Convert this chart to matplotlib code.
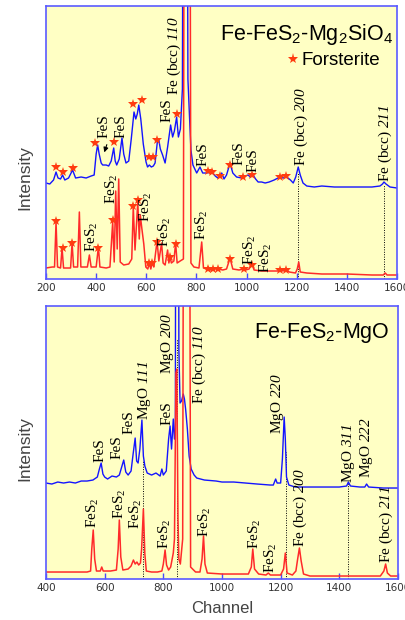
import matplotlib
matplotlib.use('Agg')
import matplotlib.pyplot as plt

plt.rcParams['mathtext.fontset'] = 'custom'
# \mathrm is used for the italic Miller indices (digits ignore \mathit)
plt.rcParams['mathtext.rm'] = 'Liberation Serif:italic'
plt.rcParams['mathtext.it'] = 'Liberation Serif:italic'
plt.rcParams['mathtext.default'] = 'regular'

# ---- top panel: Fe-FeS2-Mg2SiO4 (channel, intensity in arbitrary units) ----
top_blue_ch = [200, 215, 230, 240, 248, 258, 266, 275, 290, 306, 318, 340, 360, 380, 392, 400, 406, 412, 420, 426,
               440, 450, 460, 470, 476, 482, 492, 503, 510, 519, 530, 540, 551, 558, 564, 570, 578, 588, 599, 605,
               612, 620, 628, 635, 644, 650, 656, 665, 675, 685, 697, 705, 712, 721, 728, 736, 744, 750, 760, 766,
               778, 786, 801, 814, 825, 840, 861, 875, 885, 901, 910, 920, 934, 945, 960, 981, 995, 1006, 1015, 1026,
               1036, 1046, 1060, 1074, 1090, 1110, 1133, 1145, 1160, 1175, 1186, 1196, 1206, 1214, 1225, 1240, 1270,
               1300, 1350, 1400, 1450, 1500, 1532, 1542, 1548, 1556, 1572, 1600]
top_blue_I = [96, 95, 99, 107, 101, 100, 104, 99, 101, 109, 101, 102, 101, 103, 104, 125, 134, 125, 116, 114,
              114, 113, 118, 131, 118, 114, 120, 141, 125, 116, 118, 140, 167, 160, 165, 174, 160, 135, 117, 112,
              114, 112, 113, 116, 137, 139, 130, 124, 116, 132, 154, 142, 148, 162, 142, 150, 190, 800, 800, 200,
              129, 114, 106, 112, 106, 106, 107, 103, 101, 106, 100, 104, 116, 106, 102, 101, 103, 104, 102, 104,
              100, 97, 97, 96, 97, 99, 102, 101, 102, 99, 96, 102, 112, 104, 96, 93, 92,
              93, 92, 92, 92, 92, 93, 95, 97, 95, 92, 91]

top_red_ch = [200, 225, 234, 240, 246, 258, 264, 270, 298, 304, 310, 326, 333, 339, 365, 373, 380, 400, 409, 415,
              440, 455, 466, 472, 478, 484, 490, 496, 510, 530, 542, 548, 555, 566, 572, 576, 582, 590, 598, 606,
              612, 618, 623, 630, 643, 650, 661, 667, 675, 685, 690, 695, 700, 710, 717, 723, 735, 748, 754, 770,
              778, 790, 810, 821, 828, 840, 847, 855, 867, 887, 905, 920, 934, 945, 970, 987, 995, 1010, 1020, 1030,
              1060, 1100, 1125, 1133, 1145, 1157, 1170, 1195, 1202, 1208, 1214, 1240, 1300, 1400, 1500, 1545, 1553,
              1560, 1600]
top_red_I = [11, 12, 12, 57, 12, 11, 31, 11, 11, 36, 12, 12, 67, 12, 12, 24, 12, 12, 32, 12,
             11, 12, 57, 17, 88, 30, 100, 17, 14, 15, 20, 72, 29, 77, 40, 64, 51, 35, 12, 10,
             16, 10, 16, 12, 38, 18, 36, 16, 14, 29, 16, 22, 16, 18, 36, 16, 18, 20, 900, 900,
             16, 12, 11, 37, 11, 10, 12, 9, 11, 10, 9, 10, 21, 10, 9, 10, 9, 10, 16, 9,
             8, 8, 8, 10, 8, 10, 7, 6, 10, 17, 7, 6, 5, 5, 4, 4, 6,
             4, 4]

top_star_blue_ch = [240, 266, 306, 397, 472, 548, 582, 612, 628, 644, 721, 848, 862, 894, 934, 987, 1020, 1133, 1157]
top_star_blue_I = [112, 107, 111, 136, 137, 175, 179, 122, 122, 139, 165, 108, 107, 103, 114, 102, 104, 102, 103]
top_star_red_ch = [240, 266, 304, 409, 466, 548, 566, 612, 623, 643, 695, 717, 847, 867, 887, 934, 991, 1020, 1133, 1157]
top_star_red_I = [58, 31, 36, 31, 59, 73, 79, 16, 16, 37, 22, 35, 10, 10, 10, 20, 10, 14, 9, 9]

top_labels = ['FeS', 'FeS', 'FeS', 'Fe (bcc) $\\mathrm{110}$', 'FeS', 'FeS', 'FeS',
              'Fe (bcc) $\\mathrm{200}$', 'Fe (bcc) $\\mathrm{211}$',
              'FeS$_2$', 'FeS$_2$', 'FeS$_2$', 'FeS$_2$', 'FeS$_2$', 'FeS$_2$', 'FeS$_2$']
top_label_ch = [431, 500, 681, 711, 825, 971, 1027, 1220, 1554, 462, 383, 599, 676, 821, 1014, 1076]
top_label_I = [141, 141, 157, 184, 113, 114, 107, 113, 97, 75, 27, 57, 32, 39, 14, 6]

top_dot_ch = [1207, 1550]
top_dot_I = [107, 94]

# ---- bottom panel: Fe-FeS2-MgO ----
bot_blue_ch = [400, 420, 440, 460, 480, 500, 520, 540, 560, 575, 582, 588, 594, 600, 610, 625, 640, 650, 658, 665,
               672, 680, 690, 697, 704, 709, 714, 720, 727, 732, 737, 745, 760, 775, 789, 795, 800, 810, 818, 823,
               828, 834, 838, 841, 844, 850, 853, 857, 862, 868, 872, 876, 882, 888, 895, 905, 914, 940, 980, 1000,
               1040, 1080, 1120, 1164, 1175, 1183, 1188, 1200, 1206, 1212, 1216, 1220, 1228, 1250, 1300, 1350, 1400,
               1425, 1431, 1438, 1470, 1487, 1493, 1500, 1550, 1600]
bot_blue_I = [96, 95, 97, 96, 97, 96, 98, 98, 99, 102, 110, 116, 105, 102, 100, 103, 102, 104, 112, 119,
              107, 104, 108, 125, 141, 118, 116, 130, 159, 123, 113, 106, 104, 106, 103, 110, 104, 108, 140, 153,
              130, 160, 140, 140, 900, 900, 230, 176, 178, 185, 180, 170, 150, 123, 110, 104, 101, 99, 98, 97,
              97, 96, 95, 94, 94, 100, 96, 96, 120, 162, 140, 102, 94, 92, 92, 92, 92,
              93, 97, 93, 92, 92, 95, 92, 91, 91]

bot_red_ch = [400, 450, 500, 540, 552, 556, 561, 566, 572, 585, 590, 595, 620, 640, 646, 650, 655, 662, 680, 690,
              698, 704, 710, 716, 722, 726, 732, 737, 742, 760, 780, 795, 800, 806, 811, 818, 825, 834, 838, 843,
              846, 850, 853, 858, 866, 872, 886, 893, 910, 925, 932, 937, 942, 950, 1000, 1050, 1090, 1100, 1105,
              1111, 1125, 1150, 1158, 1165, 1200, 1210, 1216, 1222, 1240, 1252, 1258, 1264, 1270, 1278, 1300, 1350,
              1400, 1450, 1500, 1540, 1552, 1558, 1564, 1575, 1600]
bot_red_I = [7, 7, 7, 7, 8, 30, 49, 20, 8, 8, 12, 8, 8, 9, 30, 59, 22, 9, 10, 13,
             19, 15, 17, 14, 16, 30, 70, 25, 8, 7, 7, 8, 15, 29, 14, 9, 12, 26, 40, 206,
             210, 60, 20, 15, 40, 900, 900, 12, 7, 7, 20, 43, 15, 6, 5, 5, 5, 12, 30,
             10, 5, 4, 6, 4, 4, 10, 26, 6, 4, 8, 20, 31, 18, 5, 3, 3,
             3, 3, 3, 3, 8, 15, 6, 3, 3]

bot_labels = ['FeS', 'FeS', 'FeS', 'MgO $\\mathrm{111}$', 'FeS', 'MgO $\\mathrm{200}$', 'Fe (bcc) $\\mathrm{110}$',
              'MgO $\\mathrm{220}$', 'MgO $\\mathrm{311}$', 'MgO $\\mathrm{222}$', 'Fe (bcc) $\\mathrm{200}$',
              'Fe (bcc) $\\mathrm{211}$',
              'FeS$_2$', 'FeS$_2$', 'FeS$_2$', 'FeS$_2$', 'FeS$_2$', 'FeS$_2$', 'FeS$_2$']
bot_label_ch = [584, 641, 683, 735, 814, 813, 923, 1190, 1431, 1493, 1266, 1561,
                561, 652, 706, 806, 942, 1112, 1166]
bot_label_I = [117, 120, 145, 159, 154, 205, 175, 145, 96, 101, 32, 16,
               51, 60, 50, 30, 42, 30, 6]

bot_dot_ch = [730, 848, 1217, 1431]
bot_dot_I = [118, 240, 127, 96]

BLUE = '#1414ff'
RED = '#ff2a2a'
STAR = '#ff3c10'


def setup(ax, xmin):
    ax.set_facecolor('#ffffc4')
    ax.set_xlim(xmin, 1600)
    ax.set_ylim(0, 273)
    ax.set_yticks([])
    ax.set_xticks(range(xmin, 1601, 200))
    ax.tick_params(axis='x', direction='in', length=4, width=1, color='#4848ff',
                   labelsize=7.5, labelcolor='#333333', pad=3)
    for s in ax.spines.values():
        s.set_color('#5a5aff')
        s.set_linewidth(1.2)


def put_labels(ax, names, xs, ys):
    for name, x, y in zip(names, xs, ys):
        ax.text(x, y, name, rotation=90, ha='center', va='bottom',
                family='Liberation Serif', fontsize=11, color='k', zorder=6)


fig = plt.figure(figsize=(4.05, 6.2), dpi=100)
ax1 = fig.add_axes([0.1136, 0.55, 0.8667, 0.4403])
ax2 = fig.add_axes([0.1136, 0.0661, 0.869, 0.4403])

# top panel
setup(ax1, 200)
for x, y in zip(top_dot_ch, top_dot_I):
    ax1.plot([x, x], [0, y], color='k', lw=0.7, ls=(0, (1, 1.5)), zorder=1)
ax1.plot(top_blue_ch, top_blue_I, color=BLUE, lw=1.0, zorder=2)
ax1.plot(top_red_ch, top_red_I, color=RED, lw=1.1, zorder=2)
ax1.plot(top_star_blue_ch, top_star_blue_I, '*', color=STAR, ms=7.5, mew=0, zorder=5)
ax1.plot(top_star_red_ch, top_star_red_I, '*', color=STAR, ms=7.5, mew=0, zorder=5)
put_labels(ax1, top_labels, top_label_ch, top_label_I)
ax1.annotate('', xy=(429, 124), xytext=(446, 137),
             arrowprops=dict(arrowstyle='-|>', color='k', lw=0.8, mutation_scale=7))
ax1.text(0.9886, 0.875, 'Fe-FeS$_2$-Mg$_2$SiO$_4$', transform=ax1.transAxes, ha='right',
         va='baseline', family='Liberation Sans', fontsize=15.5)
ax1.plot([0.7046], [0.805], '*', color=STAR, ms=8, mew=0, transform=ax1.transAxes)
ax1.text(0.729, 0.80, 'Forsterite', transform=ax1.transAxes, ha='left', va='center',
         family='Liberation Sans', fontsize=13.5)

# bottom panel
setup(ax2, 400)
for x, y in zip(bot_dot_ch, bot_dot_I):
    ax2.plot([x, x], [0, y], color='k', lw=0.7, ls=(0, (1, 1.5)), zorder=1)
ax2.plot(bot_blue_ch, bot_blue_I, color=BLUE, lw=1.0, zorder=2)
ax2.plot(bot_red_ch, bot_red_I, color=RED, lw=1.1, zorder=2)
put_labels(ax2, bot_labels, bot_label_ch, bot_label_I)
ax2.text(0.977, 0.883, 'Fe-FeS$_2$-MgO', transform=ax2.transAxes, ha='right',
         va='baseline', family='Liberation Sans', fontsize=15.5)

fig.text(25 / 405, 0.713, 'Intensity', rotation=90, ha='center', va='center',
         family='Liberation Sans', fontsize=12.5, color='#444444')
fig.text(25 / 405, 0.277, 'Intensity', rotation=90, ha='center', va='center',
         family='Liberation Sans', fontsize=12.5, color='#444444')
fig.text(222 / 405, 0.018, 'Channel', ha='center', va='center',
         family='Liberation Sans', fontsize=12, color='#444444')

fig.savefig('out.png', dpi=100)
